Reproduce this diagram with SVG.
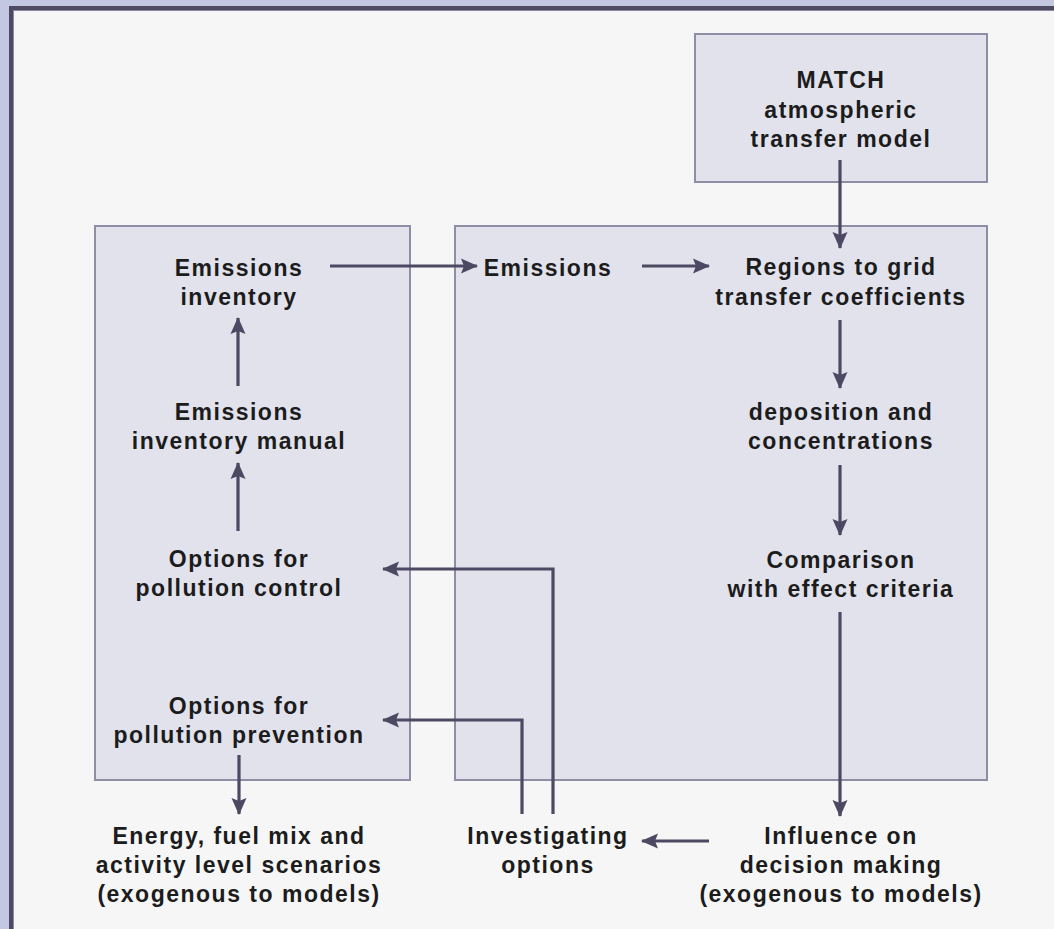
<svg xmlns="http://www.w3.org/2000/svg" width="1054" height="929" viewBox="0 0 1054 929">
<defs>
<style>
.box{fill:#e2e2ec;stroke:#8f8da3;stroke-width:2}
.t{font-family:"Liberation Sans",Arial,sans-serif;font-weight:bold;font-size:23px;letter-spacing:1.5px;fill:#1c1c1c;text-anchor:middle}
.c{fill:none;stroke:#4d4962;stroke-width:3.2;marker-end:url(#ah)}
</style>
<marker id="ah" markerUnits="userSpaceOnUse" markerWidth="18" markerHeight="18" viewBox="0 0 18 18" refX="16" refY="9" orient="auto">
<path d="M0,1.5 L17,9 L0,16.5 L3,9 z" fill="#4d4962"/>
</marker>
</defs>
<rect x="0" y="0" width="1054" height="929" fill="#c3c7e2"/>
<rect x="9" y="6" width="1045" height="923" fill="#4e4a63"/>
<rect x="13" y="10" width="1041" height="919" fill="#8c8aa0"/>
<rect x="14" y="11" width="1040" height="918" fill="#f6f6f6"/>

<g id="left-panel"><rect class="box" x="95" y="226" width="315" height="554"/></g>
<g id="right-panel"><rect class="box" x="455" y="226" width="532" height="554"/></g>

<g id="match"><rect class="box" x="695" y="34" width="292" height="148"/>
<text class="t" x="841" y="88">MATCH</text>
<text class="t" x="841" y="118">atmospheric</text>
<text class="t" x="841" y="147">transfer model</text></g>

<g id="emissions-inventory"><text class="t" x="239" y="276">Emissions</text><text class="t" x="239" y="305">inventory</text></g>
<g id="emissions"><text class="t" x="548" y="276">Emissions</text></g>
<g id="regions"><text class="t" x="841" y="275">Regions to grid</text><text class="t" x="841" y="305">transfer coefficients</text></g>
<g id="inventory-manual"><text class="t" x="239" y="420">Emissions</text><text class="t" x="239" y="449">inventory manual</text></g>
<g id="deposition"><text class="t" x="841" y="420">deposition and</text><text class="t" x="841" y="449">concentrations</text></g>
<g id="pollution-control"><text class="t" x="239" y="567">Options for</text><text class="t" x="239" y="596">pollution control</text></g>
<g id="comparison"><text class="t" x="841" y="568">Comparison</text><text class="t" x="841" y="597">with effect criteria</text></g>
<g id="pollution-prevention"><text class="t" x="239" y="714">Options for</text><text class="t" x="239" y="743">pollution prevention</text></g>
<g id="energy"><text class="t" x="239" y="844">Energy, fuel mix and</text><text class="t" x="239" y="873">activity level scenarios</text><text class="t" x="239" y="902">(exogenous to models)</text></g>
<g id="investigating"><text class="t" x="548" y="844">Investigating</text><text class="t" x="548" y="873">options</text></g>
<g id="influence"><text class="t" x="841" y="844">Influence on</text><text class="t" x="841" y="873">decision making</text><text class="t" x="841" y="902">(exogenous to models)</text></g>

<g id="connectors">
<path class="c" d="M840,160 V248"/>
<path class="c" d="M330,266 H477"/>
<path class="c" d="M642,266 H709"/>
<path class="c" d="M840,320 V388"/>
<path class="c" d="M840,465 V535"/>
<path class="c" d="M840,612 V816"/>
<path class="c" d="M709,841 H642"/>
<path class="c" d="M553,814 V569 H383"/>
<path class="c" d="M522,814 V720 H383"/>
<path class="c" d="M238,531 V463"/>
<path class="c" d="M238,386 V318"/>
<path class="c" d="M239,755 V814"/>
</g>
</svg>
